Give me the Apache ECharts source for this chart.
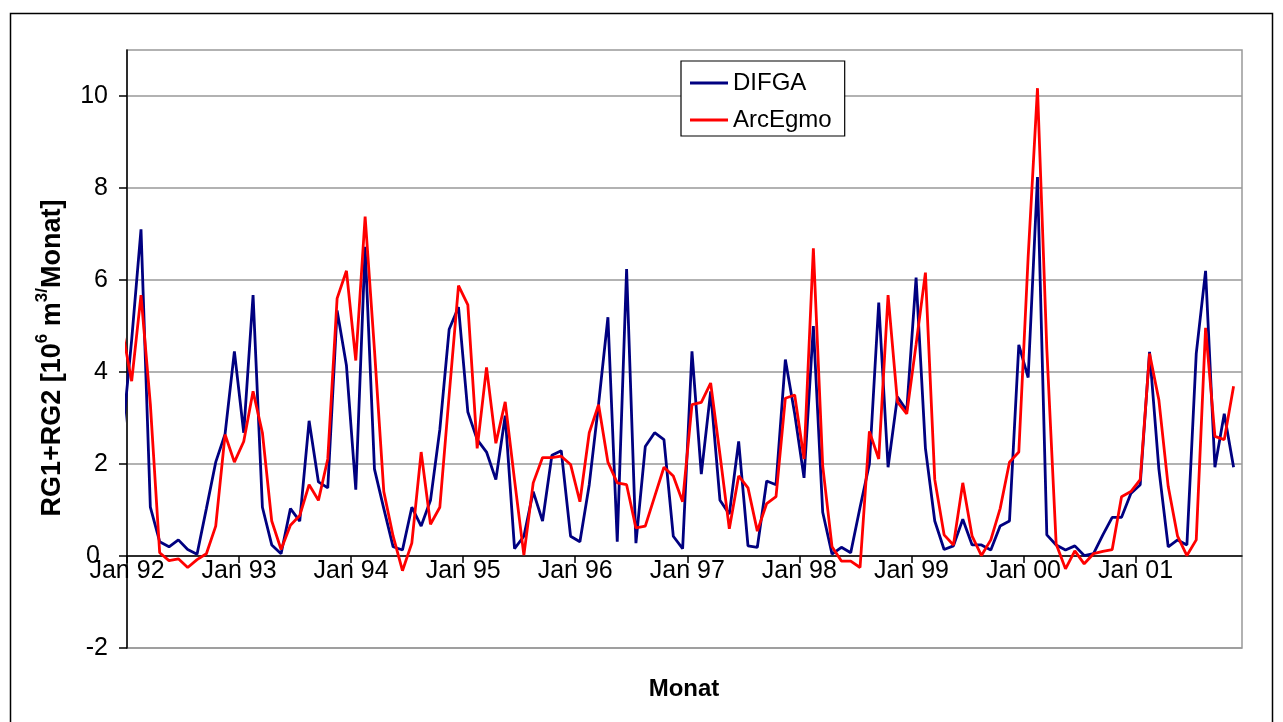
<!DOCTYPE html>
<html>
<head>
<meta charset="utf-8">
<script src="https://cdn.jsdelivr.net/npm/echarts@6/dist/echarts.min.js"></script>
<style>
html,body{margin:0;padding:0;background:#fff;}
#c{width:1283px;height:722px;}
</style>
</head>
<body>
<div id="c"></div>
<script>
// Monthly values, first entry = Dec 1991 (partly outside the axis), last = Nov 2001
const firstMonth = -1; // month offset of first value relative to Jan 92
const difga = [
  2.6,
  4.7, 7.10, 1.06, 0.31, 0.20, 0.35, 0.14, 0.04, 1.03, 2.04, 2.65, 4.45,
  2.68, 5.67, 1.06, 0.24, 0.05, 1.03, 0.76, 2.94, 1.61, 1.48, 5.34, 4.14,
  1.44, 6.72, 1.89, 1.03, 0.20, 0.13, 1.06, 0.65, 1.21, 2.75, 4.93, 5.41,
  3.13, 2.53, 2.26, 1.66, 3.05, 0.16, 0.43, 1.40, 0.76, 2.19, 2.29, 0.43,
  0.31, 1.55, 3.30, 5.19, 0.31, 6.24, 0.28, 2.38, 2.68, 2.53, 0.43, 0.16,
  4.45, 1.78, 3.58, 1.21, 0.91, 2.49, 0.22, 0.19, 1.63, 1.55, 4.27, 3.09,
  1.70, 5.00, 0.95, 0.04, 0.19, 0.07, 1.06, 2.00, 5.51, 1.93, 3.46, 3.16,
  6.05, 2.34, 0.76, 0.14, 0.22, 0.80, 0.24, 0.24, 0.13, 0.65, 0.76, 4.59,
  3.88, 8.24, 0.46, 0.24, 0.13, 0.22, 0.01, 0.05, 0.46, 0.84, 0.84, 1.36,
  1.55, 4.44, 1.89, 0.20, 0.35, 0.24, 4.40, 6.20, 1.93, 3.09, 1.93
];
const arcegmo = [
  4.9,
  3.80, 5.67, 3.30, 0.07, -0.10, -0.06, -0.25, -0.08, 0.05, 0.65, 2.64, 2.04,
  2.49, 3.58, 2.68, 0.76, 0.14, 0.67, 0.88, 1.55, 1.21, 2.11, 5.60, 6.20,
  4.25, 7.38, 4.48, 1.40, 0.43, -0.32, 0.28, 2.26, 0.69, 1.06, 3.50, 5.88,
  5.46, 2.34, 4.10, 2.45, 3.35, 1.65, 0.02, 1.59, 2.14, 2.14, 2.17, 1.99,
  1.18, 2.68, 3.29, 2.04, 1.59, 1.55, 0.61, 0.65, 1.29, 1.93, 1.74, 1.18,
  3.29, 3.34, 3.76, 2.20, 0.59, 1.74, 1.48, 0.54, 1.14, 1.29, 3.43, 3.50,
  2.11, 6.69, 1.96, 0.20, -0.11, -0.11, -0.25, 2.71, 2.11, 5.67, 3.35, 3.09,
  4.60, 6.16, 1.66, 0.46, 0.24, 1.59, 0.43, 0.01, 0.35, 1.03, 2.04, 2.26,
  6.50, 10.17, 4.50, 0.26, -0.28, 0.11, -0.17, 0.05, 0.10, 0.14, 1.29, 1.40,
  1.66, 4.40, 3.39, 1.51, 0.43, 0.01, 0.35, 4.96, 2.60, 2.53, 3.69
];
const xTickValues = [0, 12, 24, 36, 48, 60, 72, 84, 96, 108];
const xTickLabels = ['Jan 92','Jan 93','Jan 94','Jan 95','Jan 96','Jan 97','Jan 98','Jan 99','Jan 00','Jan 01'];
const yTickValues = [-2, 0, 2, 4, 6, 8, 10];

const toPts = arr => arr.map((v, i) => [firstMonth + i + 0.5, v]);

const chart = echarts.init(document.getElementById('c'), null, {renderer: 'canvas'});
const FONT = 'Liberation Sans, Arial, sans-serif';
const Y_MIN = -2, Y_MAX = 11, GRID_TOP = 50, GRID_BOTTOM = 74;
const pxPerUnit = (722 - GRID_TOP - GRID_BOTTOM) / (Y_MAX - Y_MIN);
const lineIcon = 'path://M0,0 L38,0 L38,3 L0,3 Z';
chart.setOption({
  animation: false,
  backgroundColor: '#fff',
  grid: {left: 127, right: 41, top: GRID_TOP, bottom: GRID_BOTTOM, show: true, borderColor: '#999', borderWidth: 1.5, backgroundColor: 'transparent'},
  legend: {
    orient: 'vertical', left: 681, top: 61,
    backgroundColor: '#fff', borderColor: '#000', borderWidth: 1.2,
    padding: [10, 13, 4, 9], itemGap: 13, itemWidth: 38, itemHeight: 24,
    textStyle: {fontFamily: FONT, fontSize: 24, color: '#000'},
    data: [{name: 'DIFGA', icon: lineIcon}, {name: 'ArcEgmo', icon: lineIcon}]
  },
  xAxis: {
    type: 'value', min: 0, max: 119.4,
    offset: -(0 - Y_MIN) * pxPerUnit,
    axisLine: {onZero: false, lineStyle: {color: '#000', width: 1.5}},
    axisTick: {show: true, length: 7, inside: false, customValues: xTickValues, lineStyle: {color: '#000', width: 1.5}},
    axisLabel: {customValues: xTickValues, margin: 3, fontFamily: FONT, fontSize: 25, color: '#000',
      formatter: v => xTickLabels[xTickValues.indexOf(v)] || ''},
    splitLine: {show: false}
  },
  yAxis: {
    type: 'value', min: Y_MIN, max: Y_MAX,
    axisLine: {show: true, lineStyle: {color: '#000', width: 1.5}},
    axisTick: {show: true, length: 8, customValues: yTickValues, lineStyle: {color: '#000', width: 1.5}},
    axisLabel: {customValues: yTickValues, margin: 19, fontFamily: FONT, fontSize: 25, color: '#000',
      formatter: v => v === 0 ? '{z|0}' : String(v),
      rich: {z: {fontFamily: FONT, fontSize: 25, color: '#000', padding: [0, 8, 0, 0]}}},
    splitLine: {show: true, lineStyle: {color: '#999', width: 1.5}}
  },
  graphic: [
    {type: 'rect', shape: {x: 10.5, y: 13.5, width: 1262, height: 730}, style: {fill: 'none', stroke: '#000', lineWidth: 1.5}, silent: true, z: -1},
    {type: 'text', x: 684, y: 689, style: {text: 'Monat', fontFamily: FONT, fontSize: 24, fontWeight: 'bold', fill: '#000', align: 'center', verticalAlign: 'middle'}},
    {type: 'text', x: 50, y: 358, rotation: Math.PI / 2,
      style: {
        text: '{b|RG1+RG2 [10}{s|6}{b| m}{s|3/}{b|Monat]}',
        align: 'center', verticalAlign: 'middle',
        rich: {
          b: {fontFamily: FONT, fontSize: 27, fontWeight: 'bold', fill: '#000', lineHeight: 32, verticalAlign: 'bottom'},
          s: {fontFamily: FONT, fontSize: 17, fontWeight: 'bold', fill: '#000', lineHeight: 32, verticalAlign: 'top'}
        }
      }}
  ],
  series: [
    {name: 'DIFGA', type: 'line', data: toPts(difga), symbol: 'none', clip: true,
      lineStyle: {color: '#000080', width: 2.8}, itemStyle: {color: '#000080'}, z: 2},
    {name: 'ArcEgmo', type: 'line', data: toPts(arcegmo), symbol: 'none', clip: true,
      lineStyle: {color: '#ff0000', width: 2.8}, itemStyle: {color: '#ff0000'}, z: 3}
  ]
});
</script>
</body>
</html>
